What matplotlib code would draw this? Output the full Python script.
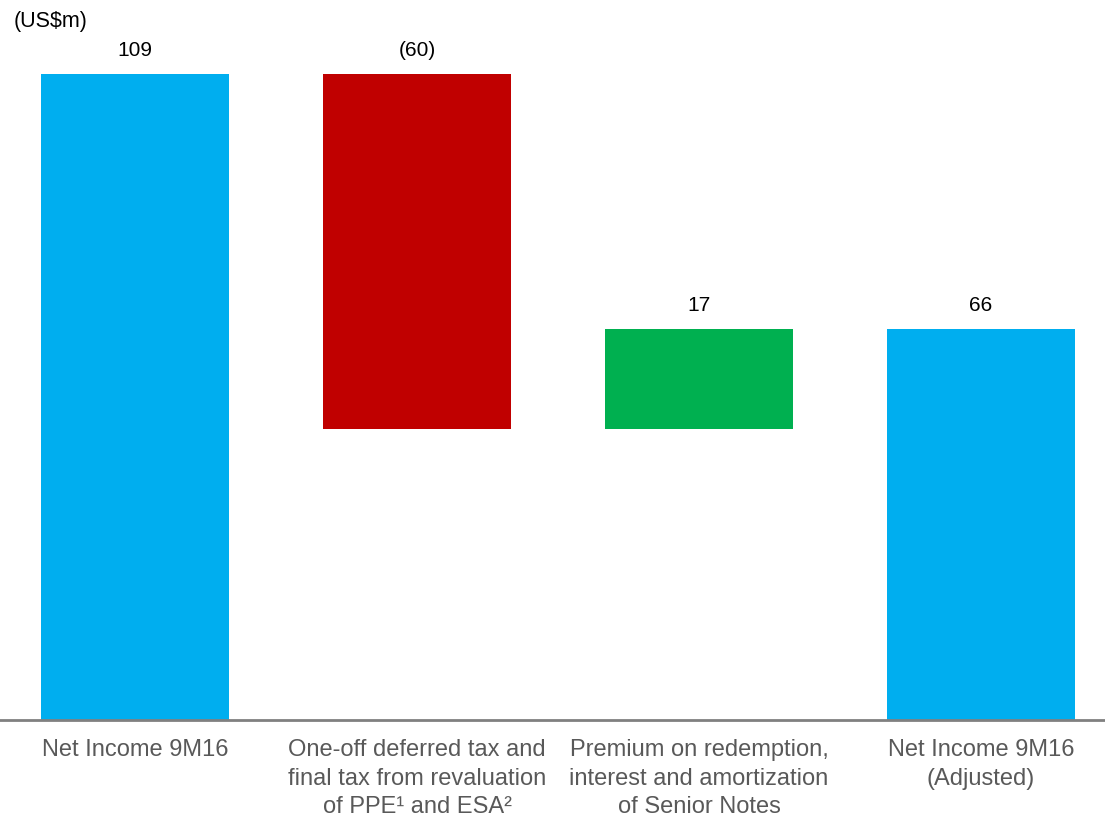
import matplotlib
matplotlib.use("Agg")
import matplotlib.pyplot as plt

plt.rcParams['font.family'] = ['Liberation Sans', 'DejaVu Sans']

categories = ["Net Income 9M16",
              "One-off deferred tax and\nfinal tax from revaluation\nof PPE\u00b9 and ESA\u00b2",
              "Premium on redemption,\ninterest and amortization\nof Senior Notes",
              "Net Income 9M16\n(Adjusted)"]
changes = [109, -60, 17, 66]
kinds = ["total", "delta", "delta", "total"]
value_labels = ["109", "(60)", "17", "66"]
colors = ["#00AEEF", "#C00000", "#00B050", "#00AEEF"]

fig = plt.figure(figsize=(11.05, 8.17), dpi=100)
ax = fig.add_axes([0, 97/817, 1, 720/817])

running = 0
for i, (v, k) in enumerate(zip(changes, kinds)):
    if k == "total":
        bottom, height = 0, v
        running = v
    else:
        if v < 0:
            bottom, height = running + v, -v
        else:
            bottom, height = running, v
        running += v
    ax.bar(i, height, bottom=bottom, width=0.667, color=colors[i], zorder=2)
    ax.annotate(value_labels[i], (i, bottom + height), xytext=(0, 10),
                textcoords="offset points", ha="center", va="bottom",
                fontsize=15, color="black")

ax.set_xlim(-0.479, 3.44)
ax.set_ylim(0, 121.4)
ax.set_yticks([])
ax.set_xticks(range(len(categories)))
ax.set_xticklabels(categories, fontsize=17, color="#595959", linespacing=1.36)
ax.tick_params(axis="x", length=0, pad=14)
for s in ["top", "right", "left"]:
    ax.spines[s].set_visible(False)
ax.spines["bottom"].set_color("#808080")
ax.spines["bottom"].set_linewidth(2)

fig.text(14/1105, 1 - 21/817, "(US$m)", fontsize=15.5, color="black", ha="left", va="center")

fig.savefig("out.png", dpi=100)
